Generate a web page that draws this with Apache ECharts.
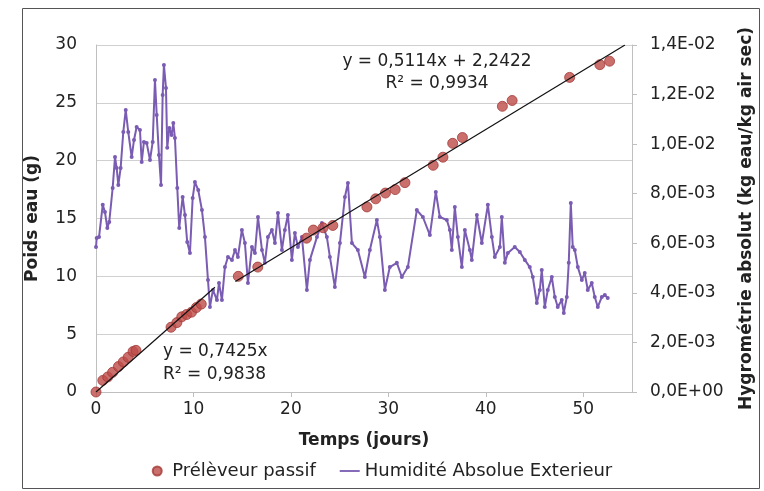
<!DOCTYPE html>
<html><head><meta charset="utf-8">
<script src="https://cdn.jsdelivr.net/npm/echarts@6/dist/echarts.min.js"></script>
<style>html,body{margin:0;padding:0;background:#fff}#c{width:764px;height:491px}</style>
</head><body><div id="c"></div>
<script>
// Prélèveur passif (days, g)
const passDays = [0,0.7,1.2,1.7,2.3,2.8,3.3,3.8,4.1, 7.7,8.3,8.8,9.3,9.8,10.3,10.8, 14.6,16.6, 21.6,22.3,23.3,24.3, 27.8,28.7,29.7,30.7,31.7, 34.6,35.6,36.6,37.6, 41.7,42.7, 48.6,51.7,52.7];
const passVals = [0,1.0,1.3,1.7,2.2,2.6,3.0,3.5,3.6, 5.6,6.0,6.5,6.7,6.9,7.3,7.6, 10.0,10.8, 13.3,14.0,14.2,14.4, 16.0,16.7,17.2,17.5,18.1, 19.6,20.3,21.5,22.0, 24.7,25.2, 27.2,28.3,28.6];

// Humidité Absolue Exterieur (days, kg eau / kg air sec)
const humDays = [0.0,0.07,0.31,0.69,0.92,1.16,1.36,1.71,1.95,2.12,2.29,2.53,2.80,3.05,3.31,3.66,3.90,4.17,4.51,4.69,4.92,5.20,5.54,5.82,6.05,6.23,6.46,6.67,6.84,6.97,7.18,7.31,7.52,7.76,7.93,8.10,8.34,8.54,8.89,9.13,9.36,9.64,9.92,10.15,10.49,
 10.87,11.18,11.49,11.69,12.00,12.41,12.62,12.92,13.23,13.54,13.95,14.26,14.56,14.97,15.28,15.59,16.00,16.31,16.62,17.03,17.33,17.64,18.05,18.36,18.67,19.08,19.38,19.69,20.10,20.41,20.72,21.13,21.64,
 21.95,22.67,23.18,23.69,24.00,24.51,25.03,25.54,25.85,26.26,26.87,27.59,28.10,28.82,29.13,29.64,30.15,30.87,31.38,32.00,32.92,33.54,34.26,34.87,35.28,36.00,
 36.31,36.51,36.82,37.13,37.54,37.85,38.36,38.56,39.08,39.59,40.21,40.62,40.92,41.44,41.64,41.95,42.26,42.97,43.49,44.00,44.51,44.82,45.23,45.54,45.74,46.05,46.36,46.77,47.08,47.38,47.79,48.00,48.31,48.51,48.72,48.92,49.13,49.44,49.85,50.15,50.46,50.87,51.18,51.49,51.90,52.21,52.51];
const humVals = [0.00585,0.00621,0.00625,0.00755,0.00726,0.00662,0.00686,0.00823,0.00948,0.00904,0.00835,0.00904,0.01049,0.01138,0.01049,0.00948,0.01017,0.01069,0.01057,0.00928,0.01009,0.01005,0.00936,0.01009,0.01259,0.01118,0.00956,0.00835,0.01198,0.01319,0.01227,0.00985,0.01065,0.01037,0.01085,0.01025,0.00823,0.00662,0.00787,0.00714,0.00605,0.00561,0.00783,0.00847,0.00815,
 0.00734,0.00625,0.00452,0.00343,0.00412,0.00371,0.00440,0.00371,0.00504,0.00545,0.00533,0.00573,0.00545,0.00654,0.00601,0.00440,0.00585,0.00561,0.00706,0.00573,0.00521,0.00625,0.00654,0.00601,0.00722,0.00573,0.00654,0.00714,0.00533,0.00642,0.00585,0.00625,0.00412,
 0.00533,0.00625,0.00682,0.00625,0.00545,0.00424,0.00601,0.00787,0.00843,0.00601,0.00573,0.00464,0.00573,0.00694,0.00625,0.00412,0.00504,0.00521,0.00464,0.00504,0.00734,0.00706,0.00633,0.00807,0.00706,0.00694,
 0.00654,0.00573,0.00746,0.00625,0.00504,0.00654,0.00573,0.00533,0.00714,0.00601,0.00755,0.00625,0.00545,0.00585,0.00706,0.00521,0.00561,0.00585,0.00565,0.00533,0.00504,0.00464,0.00359,0.00412,0.00492,0.00343,0.00412,0.00464,0.00383,0.00343,0.00371,0.00319,0.00383,0.00521,0.00763,0.00585,0.00573,0.00504,0.00452,0.00480,0.00412,0.00440,0.00383,0.00343,0.00383,0.00391,0.00379];

// Trend lines as shown on the chart
const trend1 = {slope:0.7425, intercept:0, from:0, to:12.2};
const trend2 = {slope:0.5114, intercept:2.2422, from:14.3, to:(30-2.2422)/0.5114};

const xTicks = {min:0, max:55, interval:10};
const yLeft = {min:0, max:30, interval:5};
const yRight = {min:0, max:0.014, interval:0.002};

function tl(t){ return [[t.from, t.slope*t.from+t.intercept],[t.to, t.slope*t.to+t.intercept]]; }
function sci(v){
  if (v === 0) return '0,0E+00';
  const s = v.toExponential(1);
  const parts = s.split('e');
  const e = parseInt(parts[1],10);
  const ee = (e<0?'-':'+') + String(Math.abs(e)).padStart(2,'0');
  return parts[0].replace('.',',') + 'E' + ee;
}

const FONT = 'DejaVu Sans';
const chart = echarts.init(document.getElementById('c'), null, {renderer:'canvas'});
chart.setOption({
  animation:false,
  textStyle:{fontFamily:FONT},
  grid:{left:96, right:132, top:45, bottom:99},
  legend:{
    bottom:6, left:'center', itemGap:24, itemWidth:20, itemHeight:9,
    textStyle:{fontSize:18, color:'#222', fontFamily:FONT},
    data:[{name:'Prélèveur passif', icon:'circle'},
          {name:'Humidité Absolue Exterieur', icon:'path://M0,0L22,0L22,2L0,2Z'}]
  },
  xAxis:{
    type:'value', min:xTicks.min, max:xTicks.max, interval:xTicks.interval,
    name:'Temps (jours)', nameLocation:'middle', nameGap:40,
    nameTextStyle:{fontSize:17, fontWeight:'bold', color:'#222'},
    axisLine:{lineStyle:{color:'#bfbfbf'}},
    axisTick:{show:true, length:5, lineStyle:{color:'#bfbfbf'}},
    axisLabel:{fontSize:17, color:'#222', margin:9, showMaxLabel:false},
    splitLine:{show:false}
  },
  yAxis:[{
    type:'value', min:yLeft.min, max:yLeft.max, interval:yLeft.interval,
    name:'Poids eau (g)', nameLocation:'middle', nameGap:55, nameRotate:90,
    nameTextStyle:{fontSize:17, fontWeight:'bold', color:'#222'},
    axisLine:{show:true, lineStyle:{color:'#bfbfbf'}},
    axisTick:{show:false},
    axisLabel:{fontSize:17, color:'#222', margin:19},
    splitLine:{lineStyle:{color:'#d0d0d0'}}
  },{
    type:'value', position:'right', min:yRight.min, max:yRight.max, interval:yRight.interval,
    name:'Hygrométrie absolut (kg eau/kg air sec)', nameLocation:'middle', nameGap:106, nameRotate:90,
    nameTextStyle:{fontSize:17, fontWeight:'bold', color:'#222'},
    axisLine:{show:true, lineStyle:{color:'#bfbfbf'}},
    axisTick:{show:true, length:5, lineStyle:{color:'#bfbfbf'}},
    axisLabel:{fontSize:17, color:'#222', margin:18, formatter:sci},
    splitLine:{show:false}
  }],
  series:[{
    name:'Humidité Absolue Exterieur', type:'line', yAxisIndex:1, z:2,
    data: humDays.map((d,i)=>[d, humVals[i]]),
    symbol:'circle', symbolSize:4, showSymbol:true,
    color:'#7a5cb2',
    lineStyle:{width:2, color:'#7a5cb2'},
    itemStyle:{color:'#7a5cb2'}
  },{
    name:'Prélèveur passif', type:'scatter', yAxisIndex:0, z:3,
    data: passDays.map((d,i)=>[d, passVals[i]]),
    symbol:'circle', symbolSize:10,
    itemStyle:{color:'#be4b48', borderColor:'#a33a37', borderWidth:1}
  },{
    name:'trend1', type:'line', yAxisIndex:0, z:4, data:tl(trend1),
    symbol:'none', lineStyle:{color:'#111', width:1.2}, silent:true
  },{
    name:'trend2', type:'line', yAxisIndex:0, z:4, data:tl(trend2),
    symbol:'none', lineStyle:{color:'#111', width:1.2}, silent:true
  }],
  graphic:[
    {type:'rect', shape:{x:22.5, y:8.5, width:737, height:480}, style:{fill:null, stroke:'#555', lineWidth:1}, z:-1},
    {type:'text', x:437, y:62, style:{text:'y = 0,5114x + 2,2422', font:'17px "DejaVu Sans"', fill:'#222', textAlign:'center', textVerticalAlign:'middle'}},
    {type:'text', x:437, y:84, style:{text:'R² = 0,9934', font:'17px "DejaVu Sans"', fill:'#222', textAlign:'center', textVerticalAlign:'middle'}},
    {type:'text', x:163, y:352, style:{text:'y = 0,7425x', font:'17px "DejaVu Sans"', fill:'#222', textAlign:'left', textVerticalAlign:'middle'}},
    {type:'text', x:163, y:375, style:{text:'R² = 0,9838', font:'17px "DejaVu Sans"', fill:'#222', textAlign:'left', textVerticalAlign:'middle'}}
  ]
});
</script></body></html>
